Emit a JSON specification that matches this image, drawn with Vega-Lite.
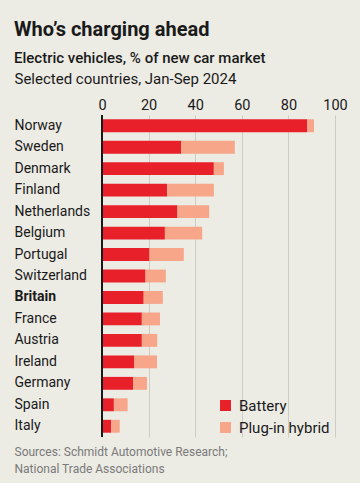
{
  "$schema": "https://vega.github.io/schema/vega-lite/v6.json",
  "autosize": "none",
  "width": 233,
  "height": 322,
  "padding": {"left": 102, "top": 115, "right": 25, "bottom": 46},
  "background": "#ECEBE4",
  "title": {
    "text": "Who’s charging ahead",
    "subtitle": "Electric vehicles, % of new car market",
    "anchor": "start",
    "frame": "group",
    "dx": -88,
    "dy": -1,
    "font": "Roboto",
    "fontSize": 20,
    "fontWeight": "bold",
    "color": "#1a1a1a",
    "subtitleFont": "Roboto",
    "subtitleFontSize": 15,
    "subtitleFontWeight": 500,
    "subtitleColor": "#1a1a1a",
    "subtitlePadding": 11,
    "offset": 4
  },
  "data": {
    "values": [
      {"country": "Norway", "type": "Battery", "value": 88},
      {"country": "Norway", "type": "Plug-in hybrid", "value": 3},
      {"country": "Sweden", "type": "Battery", "value": 34},
      {"country": "Sweden", "type": "Plug-in hybrid", "value": 23},
      {"country": "Denmark", "type": "Battery", "value": 48},
      {"country": "Denmark", "type": "Plug-in hybrid", "value": 4.3},
      {"country": "Finland", "type": "Battery", "value": 28},
      {"country": "Finland", "type": "Plug-in hybrid", "value": 20},
      {"country": "Netherlands", "type": "Battery", "value": 32.4},
      {"country": "Netherlands", "type": "Plug-in hybrid", "value": 13.6},
      {"country": "Belgium", "type": "Battery", "value": 27},
      {"country": "Belgium", "type": "Plug-in hybrid", "value": 16},
      {"country": "Portugal", "type": "Battery", "value": 20.4},
      {"country": "Portugal", "type": "Plug-in hybrid", "value": 14.7},
      {"country": "Switzerland", "type": "Battery", "value": 18.7},
      {"country": "Switzerland", "type": "Plug-in hybrid", "value": 8.7},
      {"country": "Britain", "type": "Battery", "value": 17.9},
      {"country": "Britain", "type": "Plug-in hybrid", "value": 8.2},
      {"country": "France", "type": "Battery", "value": 17.1},
      {"country": "France", "type": "Plug-in hybrid", "value": 7.8},
      {"country": "Austria", "type": "Battery", "value": 17.1},
      {"country": "Austria", "type": "Plug-in hybrid", "value": 6.6},
      {"country": "Ireland", "type": "Battery", "value": 13.9},
      {"country": "Ireland", "type": "Plug-in hybrid", "value": 9.7},
      {"country": "Germany", "type": "Battery", "value": 13.3},
      {"country": "Germany", "type": "Plug-in hybrid", "value": 6},
      {"country": "Spain", "type": "Battery", "value": 5.1},
      {"country": "Spain", "type": "Plug-in hybrid", "value": 5.9},
      {"country": "Italy", "type": "Battery", "value": 4.0},
      {"country": "Italy", "type": "Plug-in hybrid", "value": 3.6}
    ]
  },
  "layer": [
    {
      "mark": {"type": "bar"},
      "encoding": {
        "y": {
          "field": "country",
          "type": "nominal",
          "sort": ["Norway","Sweden","Denmark","Finland","Netherlands","Belgium","Portugal","Switzerland","Britain","France","Austria","Ireland","Germany","Spain","Italy"],
          "scale": {"paddingInner": 0.4, "paddingOuter": 0.2},
          "axis": {
            "title": null,
            "domain": false,
            "ticks": false,
            "labelAlign": "left",
            "labelPadding": 88,
            "labelFont": "Roboto",
            "labelFontSize": 14,
            "labelColor": "#1a1a1a",
            "labelFontWeight": {"condition": {"test": "datum.value === 'Britain'", "value": "bold"}, "value": "normal"}
          }
        },
        "x": {
          "field": "value",
          "type": "quantitative",
          "stack": "zero",
          "scale": {"domain": [0, 100], "nice": false},
          "axis": {
            "orient": "top",
            "values": [0, 20, 40, 60, 80, 100],
            "domain": false,
            "ticks": false,
            "grid": true,
            "gridColor": "#CFCCC4",
            "gridWidth": 1,
            "labelFlush": false,
            "labelFont": "Roboto",
            "labelFontSize": 14.5,
            "labelColor": "#1a1a1a",
            "labelPadding": 3,
            "title": "Selected countries, Jan-Sep 2024",
            "titleFont": "Roboto",
            "titleFontSize": 15,
            "titleFontWeight": "normal",
            "titleColor": "#1a1a1a",
            "titleAnchor": "start",
            "titleAlign": "left",
            "titleBaseline": "alphabetic",
            "titleX": -88,
            "titleY": -32
          }
        },
        "color": {
          "field": "type",
          "type": "nominal",
          "scale": {"domain": ["Battery", "Plug-in hybrid"], "range": ["#E8202A", "#F7A68A"]},
          "legend": {
            "title": null,
            "orient": "none",
            "legendX": 116,
            "legendY": 283,
            "symbolType": "square",
            "symbolSize": 120,
            "symbolStrokeWidth": 0,
            "labelFont": "Roboto",
            "labelFontSize": 15,
            "labelColor": "#1a1a1a",
            "labelOffset": 6,
            "rowPadding": 6
          }
        }
      }
    },
    {
      "mark": {"type": "rule", "color": "#1a1a1a", "strokeWidth": 1.5},
      "encoding": {
        "x": {
          "datum": 0,
          "type": "quantitative",
          "axis": {
            "orient": "bottom",
            "labels": false,
            "domain": false,
            "ticks": false,
            "grid": false,
            "title": ["Sources: Schmidt Automotive Research;", "National Trade Associations"],
            "titleFont": "Roboto",
            "titleFontSize": 12,
            "titleFontWeight": "normal",
            "titleColor": "#7a7a7a",
            "titleAnchor": "start",
            "titleAlign": "left",
            "titleBaseline": "alphabetic",
            "titleLineHeight": 17,
            "titleX": -88,
            "titleY": 18
          }
        }
      }
    }
  ],
  "resolve": {"axis": {"x": "independent"}},
  "config": {"view": {"stroke": null}}
}
